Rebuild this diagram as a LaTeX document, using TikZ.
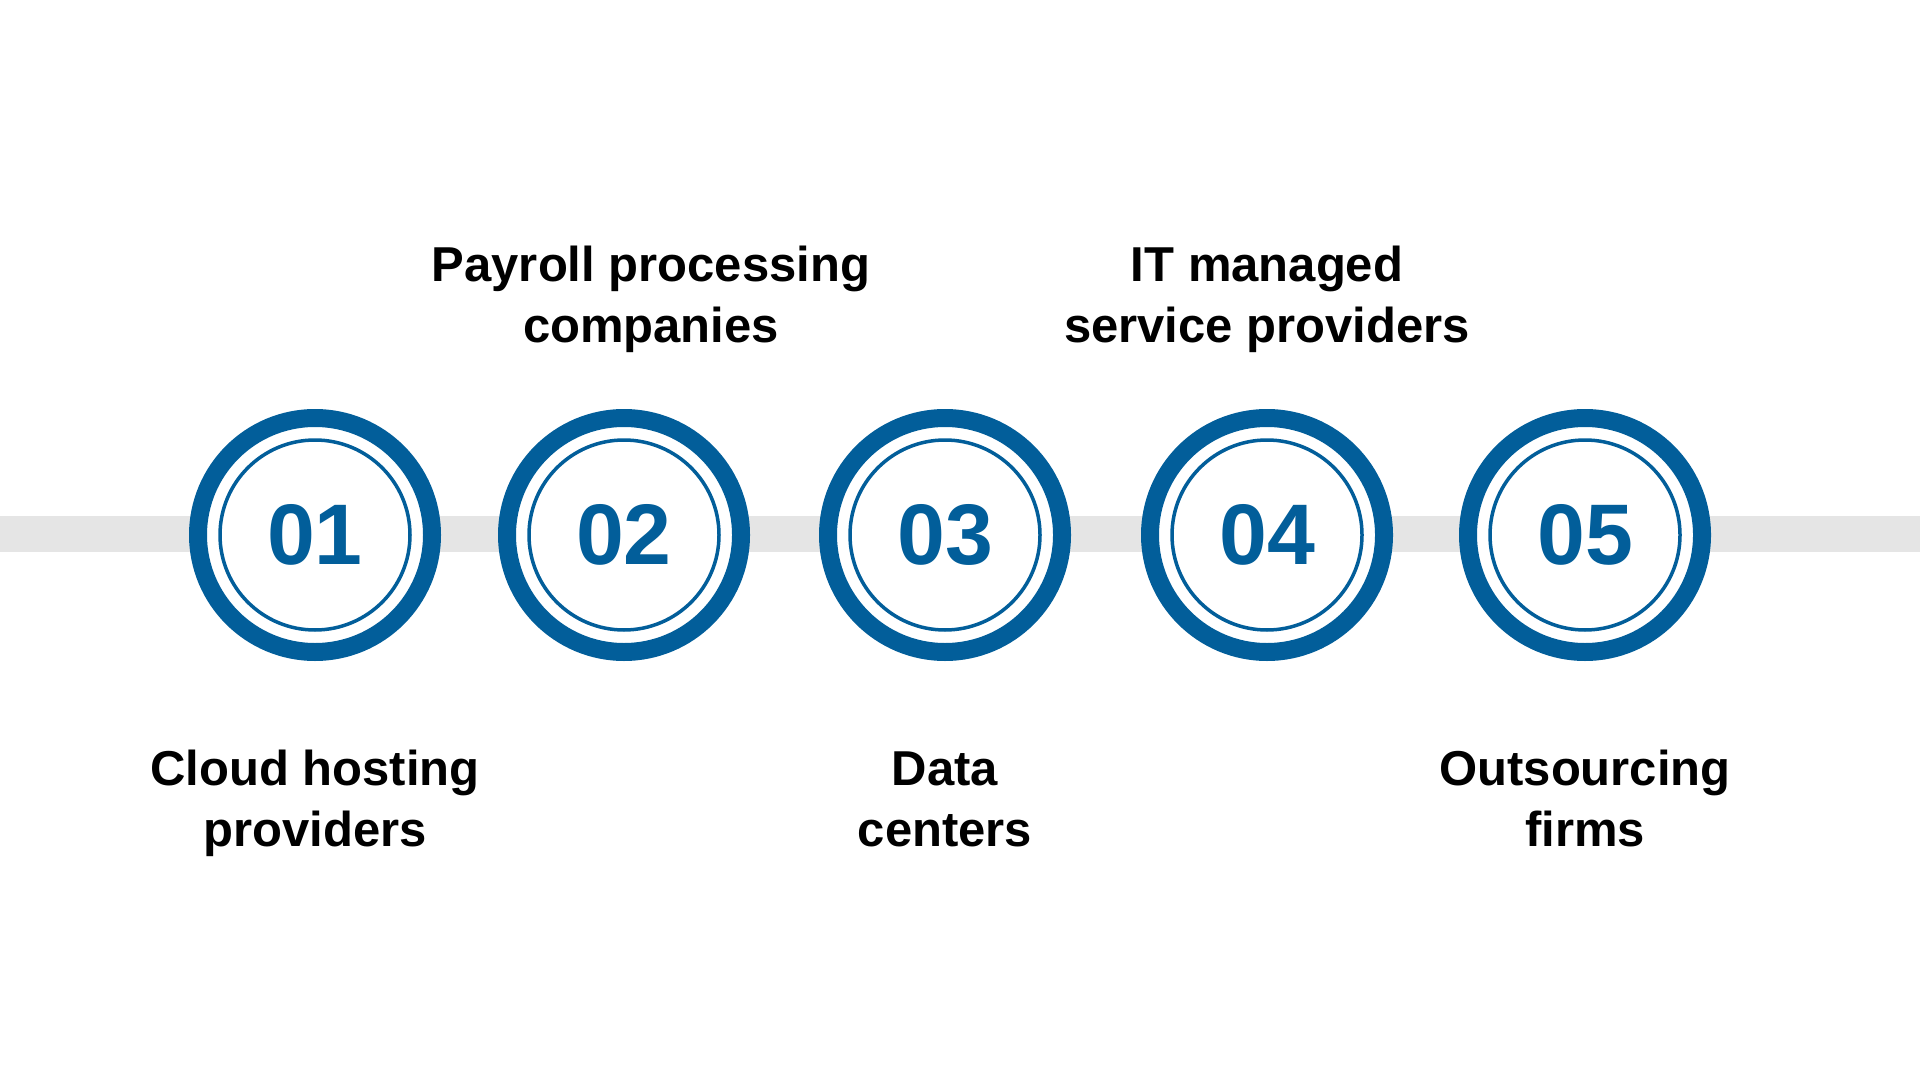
\documentclass[tikz,border=0pt]{standalone}
\usepackage{fontspec}
\setmainfont{Liberation Sans}
\usepackage{tikz}
\usetikzlibrary{positioning,calc}

\definecolor{ringblue}{RGB}{2,94,154}
\definecolor{bargray}{RGB}{229,229,229}

\tikzset{
    ring/.style={circle, draw=ringblue, fill=white, line width=9pt, minimum size=117pt, inner sep=0pt},
    inring/.style={circle, draw=ringblue, line width=1.75pt, minimum size=95pt, inner sep=0pt,
        text=ringblue, font=\fontsize{43}{43}\selectfont\bfseries},
    label/.style={align=center, anchor=base, font=\fontsize{24.5}{30.5}\selectfont\bfseries},
    bar/.style={draw=bargray, line width=18pt}
}

\begin{document}
\begin{tikzpicture}[x=0.5pt, y=-0.5pt]
    \useasboundingbox (0,0) rectangle (1920,1080);

    \coordinate (barl) at (0, 534);
    \coordinate (barr) at (1920, 534);
    \draw[bar] (barl) -- (barr);

    \node[ring] (c1) at (315, 535) {};
    \node[ring] (c2) at (624, 535) {};
    \node[ring] (c3) at (945, 535) {};
    \node[ring] (c4) at (1267, 535) {};
    \node[ring] (c5) at (1585, 535) {};

    \node[inring] (n1) at (c1) {01};
    \node[inring] (n2) at (c2) {02};
    \node[inring] (n3) at (c3) {03};
    \node[inring] (n4) at (c4) {04};
    \node[inring] (n5) at (c5) {05};

    \node[label] (t1) at (315, 846) {Cloud hosting\\providers};
    \node[label] (t2) at (651, 343) {Payroll processing\\companies};
    \node[label] (t3) at (945, 846) {Data\\centers};
    \node[label] (t4) at (1267, 343) {IT managed\\service providers};
    \node[label] (t5) at (1585, 846) {Outsourcing\\firms};
\end{tikzpicture}
\end{document}
